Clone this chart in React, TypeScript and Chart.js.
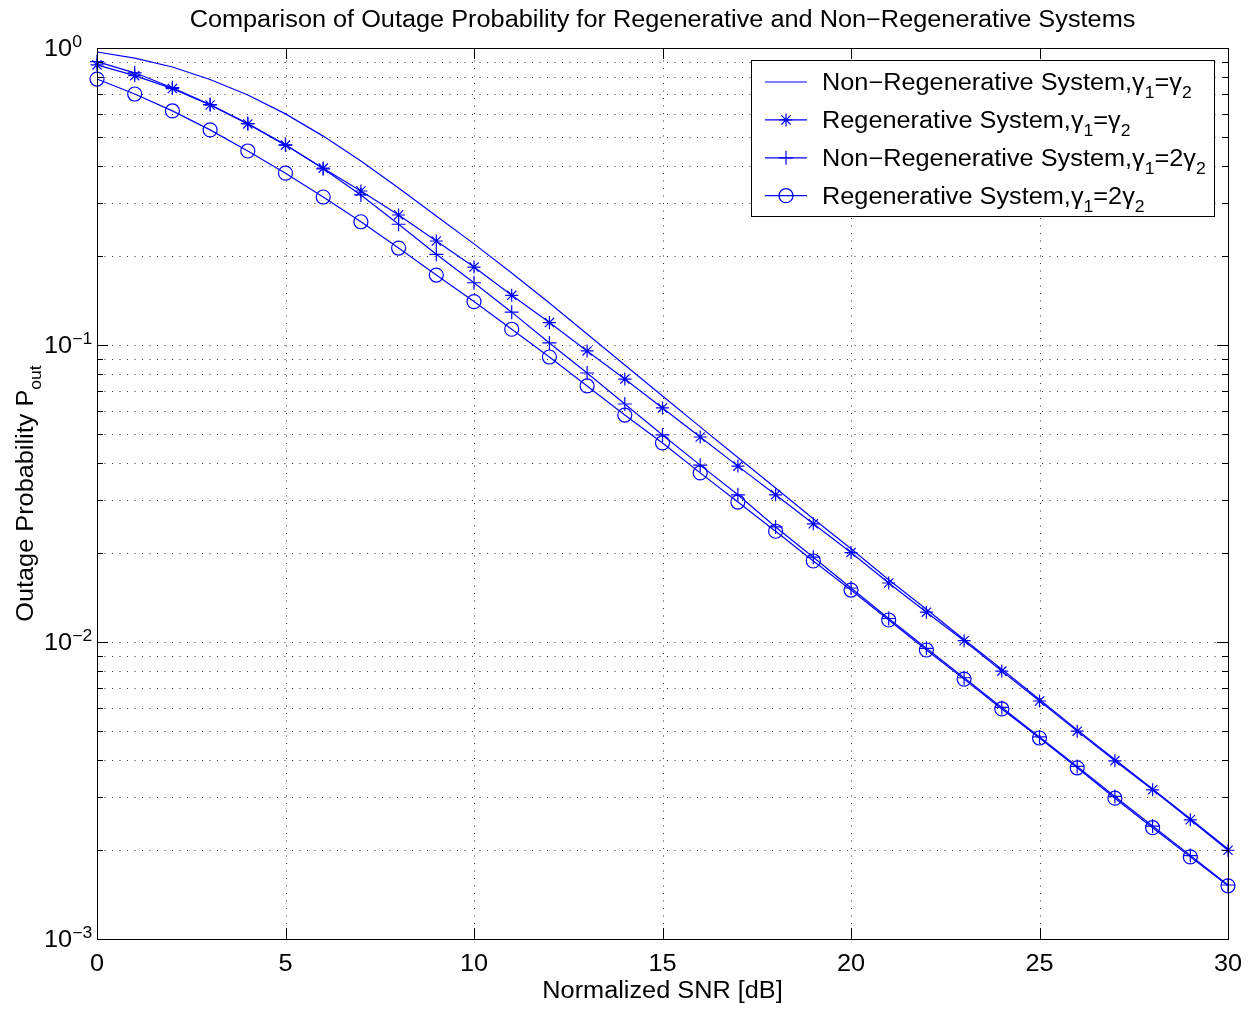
import React, { useEffect, useRef } from 'react';
import { Chart, registerables } from 'chart.js';
import { drawPoint } from 'chart.js/helpers';

Chart.register(...registerables);

// ---------------- data ----------------
const snrDb = [0, 1, 2, 3, 4, 5, 6, 7, 8, 9, 10, 11, 12, 13, 14, 15, 16, 17, 18, 19, 20, 21, 22, 23, 24, 25, 26, 27, 28, 29, 30];

const nonRegenEqual = [0.9695, 0.925, 0.863, 0.783, 0.695, 0.6, 0.505, 0.4165, 0.338, 0.272, 0.219, 0.1747, 0.1385, 0.1089, 0.0856, 0.0673, 0.053, 0.0418, 0.033, 0.026, 0.0206, 0.0162, 0.0129, 0.0102, 0.0081, 0.0064, 0.00506, 0.00402, 0.0032, 0.00254, 0.00201];

const regenEqual = [0.877, 0.807, 0.73, 0.643, 0.555, 0.471, 0.394, 0.33, 0.274, 0.224, 0.183, 0.147, 0.119, 0.0955, 0.0768, 0.0614, 0.049, 0.0391, 0.0313, 0.025, 0.02, 0.0158, 0.0126, 0.0101, 0.00798, 0.00633, 0.00501, 0.00398, 0.00318, 0.00252, 0.00199];

const nonRegenDouble = [0.9, 0.825, 0.735, 0.645, 0.557, 0.472, 0.392, 0.32, 0.255, 0.202, 0.162, 0.129, 0.1016, 0.0805, 0.0633, 0.0498, 0.0394, 0.0313, 0.0244, 0.0193, 0.0152, 0.012, 0.00952, 0.00758, 0.00602, 0.00479, 0.00381, 0.00302, 0.0024, 0.00191, 0.00152];

const regenDouble = [0.786, 0.7, 0.614, 0.53, 0.45, 0.379, 0.315, 0.26, 0.212, 0.172, 0.14, 0.113, 0.0911, 0.0728, 0.0581, 0.0468, 0.0371, 0.0296, 0.0236, 0.01874, 0.01496, 0.01186, 0.0094, 0.0075, 0.00595, 0.00475, 0.00377, 0.00298, 0.00237, 0.00189, 0.00151];

const xTickValues = [0, 5, 10, 15, 20, 25, 30];
const yDecadeExponents = [0, -1, -2, -3];
const yMinorMultipliers = [1, 2, 3, 4, 5, 6, 7, 8, 9];

const titleText = 'Comparison of Outage Probability for Regenerative and Non\u2212Regenerative Systems';
const xAxisTitle = 'Normalized SNR [dB]';
const yAxisTitle = 'Outage Probability P';
const yAxisTitleSub = 'out';

const seriesNames = ['Non\u2212Regenerative System,', 'Regenerative System,', 'Non\u2212Regenerative System,', 'Regenerative System,'];
const seriesRatios = ['=', '=', '=2', '=2'];

// ---------------- style ----------------
const BLUE = '#0000ff';
const FF = '"Liberation Sans", Arial, Helvetica, sans-serif';
const STRETCH = 1.1;
const MAIN_SIZE = 23;
const SMALL_SIZE = 16;

type Part = { t: string; k?: 'sub' | 'sup' };

function partFont(p: Part) {
  return `${p.k ? SMALL_SIZE : MAIN_SIZE}px ${FF}`;
}
function partWidth(ctx: CanvasRenderingContext2D, p: Part) {
  ctx.font = partFont(p);
  return ctx.measureText(p.t).width * STRETCH;
}
function richWidth(ctx: CanvasRenderingContext2D, parts: Part[]) {
  return parts.reduce((s, p) => s + partWidth(ctx, p), 0);
}
function drawRich(ctx: CanvasRenderingContext2D, parts: Part[], x: number, y: number, align: 'left' | 'center' | 'right' = 'left') {
  const w = richWidth(ctx, parts);
  let cx = align === 'center' ? x - w / 2 : align === 'right' ? x - w : x;
  ctx.textAlign = 'left';
  ctx.textBaseline = 'alphabetic';
  for (const p of parts) {
    ctx.font = partFont(p);
    const dy = p.k === 'sub' ? 8 : p.k === 'sup' ? -9 : 0;
    ctx.save();
    ctx.translate(cx, y + dy);
    ctx.scale(STRETCH, 1);
    ctx.fillText(p.t, 0, 0);
    ctx.restore();
    cx += partWidth(ctx, p);
  }
}

function yGridValues(): number[] {
  const vals: number[] = [];
  for (const e of yDecadeExponents) {
    if (e === 0) continue;
    for (const m of yMinorMultipliers) vals.push(m * Math.pow(10, e));
  }
  return vals;
}

const matlabPlugin = {
  id: 'matlabStyle',
  beforeDatasetsDraw(chart: any) {
    const ctx: CanvasRenderingContext2D = chart.ctx;
    const { left, right, top, bottom } = chart.chartArea;
    const xs = chart.scales.x;
    const ys = chart.scales.y;
    ctx.save();
    ctx.strokeStyle = '#333333';
    ctx.lineWidth = 1;
    ctx.setLineDash([1, 6.5]);
    for (const v of xTickValues) {
      const px = Math.round(xs.getPixelForValue(v)) + 0.5;
      if (px <= left + 1 || px >= right - 1) continue;
      ctx.beginPath();
      ctx.moveTo(px, bottom);
      ctx.lineTo(px, top);
      ctx.stroke();
    }
    for (const v of yGridValues()) {
      const py = Math.round(ys.getPixelForValue(v)) + 0.5;
      if (py <= top + 1 || py >= bottom - 1) continue;
      ctx.beginPath();
      ctx.moveTo(left, py);
      ctx.lineTo(right, py);
      ctx.stroke();
    }
    ctx.restore();
  },
  afterDatasetsDraw(chart: any) {
    const ctx: CanvasRenderingContext2D = chart.ctx;
    const { left, right, top, bottom } = chart.chartArea;
    const xs = chart.scales.x;
    const ys = chart.scales.y;
    ctx.save();
    ctx.setLineDash([]);
    ctx.strokeStyle = '#000000';
    ctx.lineWidth = 1;
    // box
    ctx.strokeRect(Math.round(left) + 0.5, Math.round(top) + 0.5, Math.round(right - left), Math.round(bottom - top));
    // x ticks (inward, top & bottom)
    for (const v of xTickValues) {
      const px = Math.round(xs.getPixelForValue(v)) + 0.5;
      ctx.beginPath();
      ctx.moveTo(px, bottom);
      ctx.lineTo(px, bottom - 11);
      ctx.moveTo(px, top);
      ctx.lineTo(px, top + 11);
      ctx.stroke();
    }
    // y ticks (inward, left & right)
    const majors = yDecadeExponents.map((e) => Math.pow(10, e));
    for (const v of [...yGridValues(), 1]) {
      const py = Math.round(ys.getPixelForValue(v)) + 0.5;
      const isMajor = majors.some((m) => Math.abs(m - v) / m < 1e-9);
      const len = isMajor ? 11 : 6;
      ctx.beginPath();
      ctx.moveTo(left, py);
      ctx.lineTo(left + len, py);
      ctx.moveTo(right, py);
      ctx.lineTo(right - len, py);
      ctx.stroke();
    }
    // legend
    const lx = 751.5, ly = 60.5, lw = 463, lh = 156;
    ctx.fillStyle = '#ffffff';
    ctx.fillRect(lx, ly, lw, lh);
    ctx.strokeStyle = '#000000';
    ctx.strokeRect(lx, ly, lw, lh);
    const datasets = chart.data.datasets;
    for (let i = 0; i < datasets.length; i++) {
      const ds = datasets[i];
      const rowY = 82 + i * 37.9;
      ctx.strokeStyle = BLUE;
      ctx.lineWidth = 1.2;
      ctx.beginPath();
      ctx.moveTo(765, rowY);
      ctx.lineTo(807, rowY);
      ctx.stroke();
      if (ds.pointRadius > 0) {
        ctx.fillStyle = 'rgba(0,0,0,0)';
        drawPoint(ctx, { pointStyle: ds.pointStyle, rotation: 0, radius: ds.pointRadius, borderWidth: 1.2 } as any, 786, rowY);
      }
      ctx.fillStyle = '#000000';
      drawRich(ctx, [
        { t: seriesNames[i] + '\u03b3' },
        { t: '1', k: 'sub' },
        { t: seriesRatios[i] + '\u03b3' },
        { t: '2', k: 'sub' },
      ], 822, rowY + 8);
    }
    ctx.restore();
  },
  afterDraw(chart: any) {
    const ctx: CanvasRenderingContext2D = chart.ctx;
    const { left, right, top, bottom } = chart.chartArea;
    const xs = chart.scales.x;
    const ys = chart.scales.y;
    ctx.save();
    ctx.fillStyle = '#000000';
    // x tick labels
    for (const v of xTickValues) {
      const px = xs.getPixelForValue(v);
      drawRich(ctx, [{ t: String(v) }], px, bottom + 32, 'center');
    }
    // y tick labels
    for (const e of yDecadeExponents) {
      const py = ys.getPixelForValue(Math.pow(10, e));
      const sup = e === 0 ? '0' : '\u2212' + String(-e);
      drawRich(ctx, [{ t: '10' }, { t: sup, k: 'sup' }], 44, py + 8, 'left');
    }
    // title
    drawRich(ctx, [{ t: titleText }], (left + right) / 2, 27, 'center');
    // x axis title
    drawRich(ctx, [{ t: xAxisTitle }], (left + right) / 2, 998, 'center');
    // y axis title
    ctx.save();
    ctx.translate(33, (top + bottom) / 2);
    ctx.rotate(-Math.PI / 2);
    drawRich(ctx, [{ t: yAxisTitle }, { t: yAxisTitleSub, k: 'sub' }], 0, 0, 'center');
    ctx.restore();
    ctx.restore();
  },
};

function toPoints(values: number[]) {
  return snrDb.map((x, i) => ({ x, y: values[i] }));
}

export default function App() {
  const canvasRef = useRef<HTMLCanvasElement | null>(null);

  useEffect(() => {
    const canvas = canvasRef.current;
    if (!canvas) return;
    const common = {
      borderColor: BLUE,
      borderWidth: 1.2,
      pointBorderColor: BLUE,
      pointBackgroundColor: 'rgba(0,0,0,0)',
      pointBorderWidth: 1.2,
      fill: false,
      tension: 0,
      clip: false as any,
    };
    const chart = new Chart(canvas, {
      type: 'line',
      data: {
        datasets: [
          { ...common, label: 'Non-Regenerative System, g1=g2', data: toPoints(nonRegenEqual), pointRadius: 0, pointStyle: 'line' },
          { ...common, label: 'Regenerative System, g1=g2', data: toPoints(regenEqual), pointRadius: 6.5, pointStyle: 'star' },
          { ...common, label: 'Non-Regenerative System, g1=2g2', data: toPoints(nonRegenDouble), pointRadius: 7, pointStyle: 'cross' },
          { ...common, label: 'Regenerative System, g1=2g2', data: toPoints(regenDouble), pointRadius: 7, pointStyle: 'circle' },
        ] as any,
      },
      options: {
        animation: false,
        responsive: false,
        devicePixelRatio: 1,
        events: [],
        layout: { padding: { top: 48, right: 27, bottom: 0, left: 0 } },
        plugins: {
          legend: { display: false },
          title: { display: false },
          tooltip: { enabled: false },
        },
        scales: {
          x: {
            type: 'linear',
            min: 0,
            max: 30,
            ticks: { display: false },
            grid: { display: false },
            border: { display: false },
            afterFit: (s: any) => { s.height = 70; },
          },
          y: {
            type: 'logarithmic',
            min: 0.001,
            max: 1,
            ticks: { display: false },
            grid: { display: false },
            border: { display: false },
            afterFit: (s: any) => { s.width = 97; },
          },
        },
      } as any,
      plugins: [matlabPlugin],
    });
    return () => chart.destroy();
  }, []);

  return (
    <div style={{ position: 'absolute', left: 0, top: 0, width: 1255, height: 1009, background: '#ffffff' }}>
      <canvas ref={canvasRef} width={1255} height={1009} style={{ display: 'block', width: 1255, height: 1009 }} />
    </div>
  );
}
